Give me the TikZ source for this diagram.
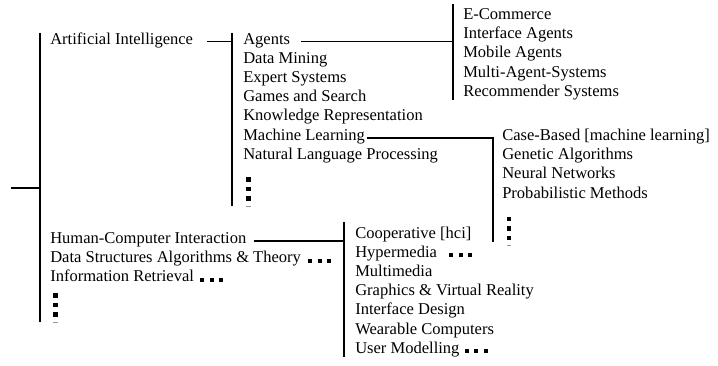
\documentclass[tikz,border=0pt]{standalone}
\usepackage{fontspec}
\setmainfont{Liberation Serif}
\usetikzlibrary{calc}

% three small squares going down, the last row cut off
\newcommand{\moredown}[1]{%
  \foreach \k in {0,1,2}
    \fill #1 ++(0,9.6*\k) rectangle ++(4.5,4.5);
  \fill[black!40] #1 ++(0,28.5) rectangle ++(4.5,1);}
% three small squares to the right, sitting on the baseline
\newcommand{\moreright}[1]{%
  \foreach \k in {0,1,2}
    \fill #1 ++(9.5*\k,0) rectangle ++(4,-3.8);}

\begin{document}
\begin{tikzpicture}[x=0.75pt, y=-0.75pt,
    topic/.style={anchor=base west, inner sep=0pt, font=\fontsize{12.4}{14.4}\selectfont},
    bar/.style={black, line width=1pt}]
  \useasboundingbox (0,0) rectangle (718,365);

  % first level
  \node[topic] (ai)   at (50,44)    {Artificial Intelligence};
  \node[topic] (hci)  at (50,243.5) {Human-Computer Interaction};
  \node[topic] (dsat) at (50,262.7) {Data Structures Algorithms \& Theory};
  \node[topic] (ir)   at (50,281.9) {Information Retrieval};

  % artificial intelligence
  \foreach \name/\txt [count=\i from 0] in {agents/Agents, dm/Data Mining,
      es/Expert Systems, gs/Games and Search, kr/Knowledge Representation,
      ml/Machine Learning, nlp/Natural Language Processing}
    \node[topic] (\name) at (243,44+19.2*\i) {\txt};

  % agents
  \foreach \name/\txt [count=\i from 0] in {ec/E-Commerce, ia/Interface Agents,
      ma/Mobile Agents, mas/Multi-Agent-Systems, rs/Recommender Systems}
    \node[topic] (\name) at (463,19.5+19.2*\i) {\txt};

  % machine learning
  \foreach \name/\txt [count=\i from 0] in {cb/Case-Based [machine learning],
      ga/Genetic Algorithms, nn/Neural Networks, pm/Probabilistic Methods}
    \node[topic] (\name) at (502,140.5+19.2*\i) {\txt};

  % human-computer interaction
  \foreach \name/\txt [count=\i from 0] in {coop/Cooperative [hci], hyp/Hypermedia,
      mm/Multimedia, gvr/Graphics \& Virtual Reality, id/Interface Design,
      wc/Wearable Computers, um/User Modelling}
    \node[topic] (\name) at (355,238+19.2*\i) {\txt};

  % brackets
  \coordinate (rootT) at (40,33);    \coordinate (rootB) at (40,322);
  \coordinate (stub)  at (11,188);
  \coordinate (aiT)   at (232,33);   \coordinate (aiB)   at (232,206);
  \coordinate (agT)   at (453,4);    \coordinate (agB)   at (453,100);
  \coordinate (mlT)   at (493,136.5); \coordinate (mlB)  at (493,241.7);
  \coordinate (hciT)  at (344,222.3); \coordinate (hciB) at (344,357);

  \draw[bar] (rootT) -- (rootB);
  \draw[bar] (stub) -- (stub -| rootT);
  \draw[bar] (aiT) -- (aiB);
  \draw[bar] (agT) -- (agB);
  \draw[bar] (mlT) -- (mlB);
  \draw[bar] (hciT) -- (hciB);

  % links into the brackets
  \coordinate (aiL)     at ($(ai.base east)+(14,-2.5)$);
  \coordinate (agentsL) at ($(agents.base east)+(11,-2.5)$);
  \coordinate (mlL)     at ($(ml.base east)+(1.5,-2)$);
  \coordinate (hciL)    at ($(hci.base east)+(7,-2.5)$);
  \draw[bar] (aiL) -- (aiL -| aiT);
  \draw[bar] (agentsL) -- (agentsL -| agT);
  \draw[bar] (mlL) -- (mlL -| mlT);
  \draw[bar] (hciL) -- (hciL -| hciT);

  % more below
  \moredown{(246,177)}
  \moredown{(506.5,216.5)}
  \moredown{(53,293)}

  % more to come
  \moreright{($(dsat.base east)+(7,0)$)}
  \moreright{($(ir.base east)+(6,0)$)}
  \moreright{($(hyp.base east)+(12,0)$)}
  \moreright{($(um.base east)+(5,0)$)}
\end{tikzpicture}
\end{document}
